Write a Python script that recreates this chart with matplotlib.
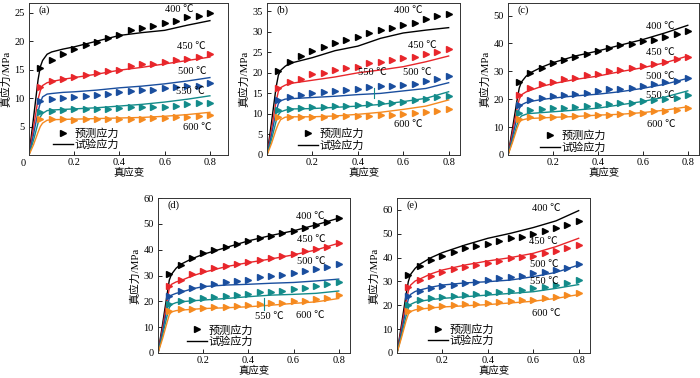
import matplotlib.pyplot as plt
from matplotlib.lines import Line2D

plt.rcParams['font.family'] = ['Liberation Serif', 'Noto Sans CJK SC', 'DejaVu Sans']
plt.rcParams['font.size'] = 7.5

temps = ['400 ℃', '450 ℃', '500 ℃', '550 ℃', '600 ℃']
colors = ['#000000', '#e8262b', '#1a4e9e', '#138b8a', '#f58a20']

# strain where predicted stress is marked
pred_strain = [0.05, 0.10, 0.15, 0.20, 0.25, 0.30, 0.35, 0.40,
               0.45, 0.50, 0.55, 0.60, 0.65, 0.70, 0.75, 0.80]
# strain samples of the experimental curves
exp_strain = [0, 0.02, 0.04, 0.05, 0.06, 0.08, 0.10, 0.15,
              0.20, 0.30, 0.40, 0.50, 0.60, 0.70, 0.80]

# ---- panel (a)
pred_a = [
    [15.2, 16.6, 17.8, 18.6, 19.3, 19.9, 20.5, 21.1, 21.9, 22.3, 22.7, 23.2, 23.5, 24.2, 24.5, 25.0],
    [11.9, 13.0, 13.3, 13.7, 14.0, 14.4, 14.7, 15.0, 15.7, 15.9, 16.0, 16.4, 16.6, 16.9, 17.3, 17.7],
    [9.5, 9.8, 10.1, 10.2, 10.4, 10.6, 10.7, 11.0, 11.2, 11.4, 11.5, 11.7, 11.9, 12.1, 12.2, 12.7],
    [7.5, 7.8, 7.9, 8.0, 8.0, 8.1, 8.1, 8.2, 8.4, 8.4, 8.5, 8.5, 8.6, 8.9, 9.1, 9.2],
    [6.3, 6.3, 6.3, 6.2, 6.3, 6.3, 6.4, 6.4, 6.4, 6.4, 6.5, 6.5, 6.6, 6.7, 6.8, 6.95],
]
exp_a = [
    [0, 6.5, 13.2, 15.5, 16.6, 17.7, 18.1, 18.6, 19.0, 20.0, 21.0, 21.5, 21.9, 22.8, 23.6],
    [0, 4.8, 9.8, 11.3, 12.2, 12.7, 12.9, 13.3, 13.6, 14.2, 14.9, 15.4, 16.0, 16.6, 17.2],
    [0, 3.6, 7.6, 9.2, 10.2, 10.7, 10.8, 11.0, 11.1, 11.4, 11.8, 12.1, 12.5, 13.0, 13.6],
    [0, 2.6, 5.6, 6.7, 7.3, 7.8, 7.9, 8.0, 8.1, 8.3, 8.6, 8.9, 9.3, 9.8, 10.4],
    [0, 1.8, 4.0, 5.0, 5.6, 6.1, 6.2, 6.25, 6.3, 6.4, 6.5, 6.6, 6.8, 7.1, 7.5],
]

# ---- panel (b)
pred_b = [
    [20.4, 22.6, 24.1, 25.4, 26.3, 27.3, 27.95, 28.8, 29.7, 30.4, 30.9, 31.6, 32.2, 33.0, 33.8, 34.4],
    [16.4, 17.8, 18.6, 19.6, 20.0, 20.7, 21.1, 21.5, 22.4, 22.7, 23.1, 23.5, 23.9, 24.7, 25.0, 25.8],
    [13.4, 14.2, 14.6, 15.0, 15.4, 15.6, 15.8, 16.0, 16.6, 16.8, 16.8, 17.0, 17.2, 18.1, 18.6, 19.3],
    [10.9, 11.3, 11.5, 11.7, 11.7, 11.9, 11.9, 12.1, 12.4, 12.6, 12.7, 13.0, 13.4, 13.7, 14.2, 14.4],
    [9.2, 9.3, 9.3, 9.3, 9.3, 9.4, 9.5, 9.5, 9.6, 9.7, 9.8, 10.0, 10.3, 10.5, 10.7, 11.1],
]
exp_b = [
    [0, 8.0, 16.5, 19.4, 20.6, 21.6, 22.3, 23.0, 23.7, 25.4, 26.5, 28.4, 29.7, 30.4, 31.0],
    [0, 6.3, 13.0, 15.5, 16.4, 17.0, 17.4, 17.8, 18.2, 19.0, 20.0, 20.7, 21.5, 22.7, 24.1],
    [0, 5.0, 10.5, 12.5, 13.2, 13.6, 13.7, 13.85, 14.0, 14.3, 14.7, 15.0, 15.6, 16.2, 17.6],
    [0, 3.8, 8.2, 9.8, 10.5, 10.9, 11.2, 11.25, 11.3, 11.6, 11.9, 12.3, 13.0, 13.8, 15.4],
    [0, 2.8, 6.2, 7.6, 8.6, 9.2, 9.3, 9.3, 9.3, 9.5, 9.9, 10.4, 11.1, 11.9, 13.4],
]

# ---- panel (c)
pred_c = [
    [26.3, 29.3, 31.3, 33.0, 34.2, 35.2, 36.3, 37.3, 38.5, 39.3, 39.9, 40.8, 41.4, 42.3, 43.5, 44.6],
    [21.4, 23.9, 25.4, 26.3, 27.1, 27.7, 28.7, 29.2, 30.1, 30.6, 31.3, 31.9, 32.7, 33.5, 34.3, 35.2],
    [17.9, 19.6, 20.4, 21.0, 21.4, 22.0, 22.4, 23.0, 23.5, 23.8, 24.2, 24.8, 25.4, 26.0, 26.5, 27.5],
    [14.9, 16.1, 16.4, 16.8, 17.0, 17.3, 17.6, 18.0, 18.2, 18.5, 18.8, 19.4, 19.8, 20.2, 20.6, 21.4],
    [12.9, 13.5, 13.7, 13.8, 13.9, 13.9, 14.2, 14.3, 14.4, 14.6, 14.9, 15.2, 15.6, 15.8, 16.2, 16.8],
]
exp_c = [
    [0, 9.5, 19.5, 24.0, 26.2, 28.2, 29.5, 31.5, 33.1, 35.5, 37.3, 39.4, 41.4, 43.8, 46.5],
    [0, 8.0, 16.5, 20.0, 21.6, 22.6, 23.2, 24.6, 25.6, 27.1, 28.3, 29.9, 31.3, 33.1, 35.5],
    [0, 6.5, 13.5, 16.6, 18.0, 18.8, 19.2, 19.9, 20.4, 21.2, 21.8, 22.7, 23.9, 25.4, 27.5],
    [0, 5.2, 10.8, 13.0, 14.0, 14.6, 14.9, 15.2, 15.5, 16.1, 16.8, 18.0, 19.2, 20.8, 23.0],
    [0, 4.5, 9.5, 11.6, 12.5, 12.9, 13.1, 13.3, 13.5, 13.8, 14.3, 14.6, 15.2, 16.1, 17.3],
]

# ---- panel (d)
pred_d = [
    [30.6, 34.1, 36.7, 38.6, 39.9, 41.2, 42.2, 43.2, 44.7, 45.4, 46.3, 47.3, 48.3, 49.4, 50.9, 52.2],
    [26.0, 28.2, 30.5, 31.7, 33.0, 33.8, 34.6, 35.2, 36.0, 36.7, 37.7, 38.5, 39.3, 40.3, 41.2, 42.5],
    [22.0, 24.0, 25.0, 26.0, 26.7, 27.3, 27.9, 28.2, 29.5, 29.9, 30.2, 30.8, 31.7, 32.5, 33.3, 34.5],
    [18.8, 20.1, 20.7, 21.4, 21.6, 22.0, 22.4, 22.7, 23.5, 23.7, 24.0, 24.8, 25.3, 26.0, 26.6, 27.6],
    [16.2, 17.0, 17.2, 17.6, 17.8, 17.9, 18.3, 18.5, 18.9, 19.3, 19.4, 20.1, 20.3, 20.9, 21.4, 22.4],
]
exp_d = [
    [0, 11.0, 22.5, 28.2, 30.5, 32.8, 34.3, 36.5, 38.2, 40.8, 43.4, 45.5, 47.3, 49.6, 52.2],
    [0, 9.5, 20.0, 25.0, 26.6, 27.5, 28.0, 29.8, 31.2, 33.4, 35.0, 36.4, 38.0, 39.9, 42.5],
    [0, 8.2, 17.2, 21.2, 22.4, 23.1, 23.5, 24.8, 25.7, 26.3, 26.6, 27.0, 27.3, 27.9, 28.6],
    [0, 6.8, 14.3, 17.6, 18.8, 19.5, 19.8, 20.2, 20.5, 21.1, 21.8, 22.4, 22.7, 23.1, 24.0],
    [0, 5.5, 11.8, 14.8, 15.9, 16.4, 16.6, 16.9, 17.2, 17.5, 17.9, 18.5, 19.2, 19.8, 21.1],
]

# ---- panel (e)
pred_e = [
    [32.7, 36.5, 38.8, 40.8, 42.5, 43.9, 44.9, 45.8, 47.1, 48.1, 48.8, 49.9, 51.2, 52.3, 53.7, 55.4],
    [27.8, 30.6, 32.4, 34.1, 35.2, 36.2, 36.9, 37.6, 38.6, 39.7, 40.4, 40.8, 41.8, 42.8, 43.9, 45.3],
    [23.8, 25.9, 27.1, 28.2, 28.7, 29.4, 29.9, 30.6, 31.5, 32.0, 32.4, 33.4, 34.1, 34.8, 35.7, 37.2],
    [20.3, 22.2, 22.9, 23.6, 24.0, 24.5, 24.8, 25.2, 25.7, 25.9, 26.4, 27.1, 27.8, 28.5, 29.2, 30.6],
    [17.5, 18.9, 19.2, 19.8, 20.0, 20.5, 20.7, 21.0, 21.4, 21.7, 22.2, 22.4, 22.9, 23.6, 24.3, 25.0],
]
exp_e = [
    [0, 12.0, 24.5, 30.0, 33.0, 35.5, 37.2, 40.0, 42.1, 45.3, 48.1, 50.2, 52.6, 55.4, 59.7],
    [0, 10.5, 21.5, 26.0, 28.5, 30.2, 31.0, 33.2, 34.8, 36.9, 38.6, 40.0, 41.8, 44.6, 48.1],
    [0, 9.0, 18.5, 22.6, 24.6, 25.8, 26.4, 27.6, 28.5, 29.4, 29.9, 30.6, 32.0, 33.8, 36.9],
    [0, 7.5, 15.5, 19.0, 20.4, 21.3, 21.7, 22.4, 22.9, 23.6, 24.3, 25.0, 25.7, 27.1, 28.7],
    [0, 6.5, 13.5, 16.3, 17.4, 18.1, 18.4, 18.9, 19.3, 19.8, 20.3, 21.0, 21.7, 22.9, 24.5],
]

W, H = 700, 378
fig = plt.figure(figsize=(W / 100, H / 100), dpi=100)


def make_ax(l, t, r, b):
    return fig.add_axes([l / W, 1 - b / H, (r - l) / W, (b - t) / H])


panels = [
    # tag, pred, exp, box(px), xmax, ymax, yticks, label positions (x, y) in temp order, legend anchor
    ('(a)', pred_a, exp_a, (29, 3, 228, 155), 0.88, 26.7, [5, 10, 15, 20, 25],
     [(0.60, 25.5), (0.655, 19.0), (0.66, 14.6), (0.65, 11.1), (0.68, 4.8)], (0.12, 0.036)),
    ('(b)', pred_b, exp_b, (267, 3, 460, 155), 0.85, 37, [0, 5, 10, 15, 20, 25, 30, 35],
     [(0.56, 35.2), (0.62, 26.7), (0.60, 20.0), (0.40, 20.0), (0.56, 7.5)], (0.16, 0.03)),
    ('(c)', pred_c, exp_c, (508, 3, 699, 155), 0.85, 54.5, [0, 10, 20, 30, 40, 50],
     [(0.615, 46.2), (0.615, 36.7), (0.615, 28.1), (0.615, 21.2), (0.62, 11.1)], (0.167, 0.017)),
    ('(d)', pred_d, exp_d, (158, 198, 350, 353), 0.85, 60, [0, 10, 20, 30, 40, 50, 60],
     [(0.61, 52.9), (0.615, 43.8), (0.615, 35.4), (0.43, 14.3), (0.61, 14.6)], (0.15, 0.042)),
    ('(e)', pred_e, exp_e, (397, 198, 590, 353), 0.85, 65, [0, 10, 20, 30, 40, 50, 60],
     [(0.594, 60.4), (0.58, 46.7), (0.587, 37.3), (0.587, 29.9), (0.594, 16.5)], (0.16, 0.048)),
]

for tag, pred, exp, box, xmax, ymax, yticks, lab_pos, leg_anchor in panels:
    ax = make_ax(*box)
    for i in range(5):
        ax.plot(exp_strain, exp[i], color=colors[i], lw=1.0)
        ax.plot(pred_strain, pred[i], linestyle='none', marker='>', ms=4.8,
                color=colors[i], mec=colors[i])
        ax.text(lab_pos[i][0], lab_pos[i][1], temps[i], fontsize=7.5,
                ha='left', va='center')
    ax.set_xlim(0, xmax)
    ax.set_ylim(0, ymax)
    ax.set_xticks([0.2, 0.4, 0.6, 0.8])
    ax.set_xticklabels(['0.2', '0.4', '0.6', '0.8'])
    ax.set_yticks(yticks)
    ax.tick_params(direction='in', length=3, width=0.6, labelsize=7.5, pad=2)
    ax.tick_params(axis='y', pad=3)
    for s in ax.spines.values():
        s.set_linewidth(0.7)
        s.set_color('#333333')
    ax.set_xlabel('真应变', fontsize=7.5, labelpad=1)
    ax.set_ylabel('真应力/MPa', fontsize=7.8, labelpad=2)
    ax.text(0.05, 0.955, tag, transform=ax.transAxes, fontsize=7.5, va='center')
    handles = [Line2D([], [], linestyle='none', marker='>', ms=4.8, color='black'),
               Line2D([], [], color='black', lw=1.0)]
    ax.legend(handles, ['预测应力', '试验应力'], loc='lower left',
              bbox_to_anchor=leg_anchor, frameon=False, fontsize=8,
              handlelength=1.8, handletextpad=0.15, labelspacing=0.05,
              borderaxespad=0.0, borderpad=0.0)
    if tag == '(a)':
        ax.text(-0.03, -0.055, '0', transform=ax.transAxes, fontsize=7.5,
                ha='center', va='center')
    if tag == '(b)':
        ax.plot([0.47, 0.47], [13.8, 16.3], color=colors[3], lw=0.8)
    if tag == '(d)':
        ax.plot([0.47, 0.47], [16.6, 21.2], color=colors[3], lw=0.8)

fig.savefig('out.png', dpi=100)
